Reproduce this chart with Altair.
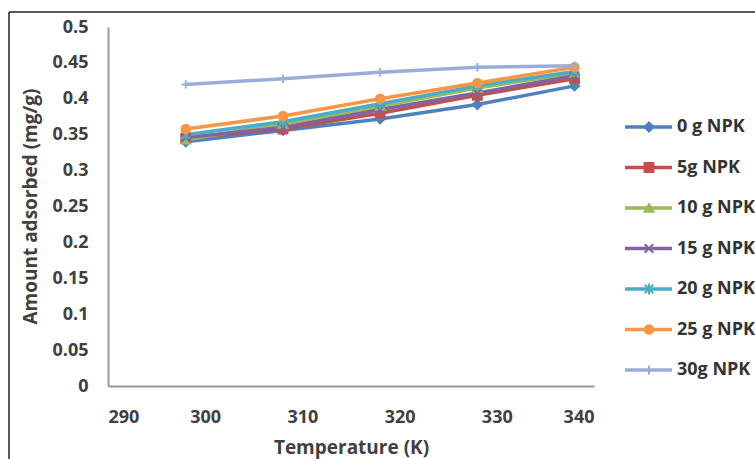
import altair as alt
import pandas as pd

# ---- data ----
temps = [298, 308, 318, 328, 338]
series = ["0 g NPK", "5g NPK", "10 g NPK", "15 g NPK", "20 g NPK", "25 g NPK", "30g NPK"]
npk0 = [0.340, 0.356, 0.372, 0.392, 0.418]
npk5 = [0.345, 0.358, 0.380, 0.405, 0.428]
npk10 = [0.343, 0.365, 0.390, 0.415, 0.436]
npk15 = [0.346, 0.360, 0.385, 0.408, 0.432]
npk20 = [0.350, 0.368, 0.393, 0.418, 0.438]
npk25 = [0.358, 0.376, 0.400, 0.422, 0.444]
npk30 = [0.420, 0.428, 0.437, 0.444, 0.446]
y_ticks = [0, 0.05, 0.1, 0.15, 0.2, 0.25, 0.3, 0.35, 0.4, 0.45, 0.5]
x_ticks = [290, 300, 310, 320, 330, 340]

# ---- styles ----
colors = ["#4F81BD", "#C0504D", "#9BBB59", "#8064A2", "#4BACC6", "#F79646", "#9AACDA"]
shapes = ["diamond", "square", "triangle-up",
          "M-1,-1L1,1M-1,1L1,-1",
          "M-1,-1L1,1M-1,1L1,-1M0,-1.3L0,1.3",
          "circle",
          "M-1,0L1,0M0,-1L0,1"]
sizes = [80, 70, 80, 80, 80, 170, 110]

all_vals = [npk0, npk5, npk10, npk15, npk20, npk25, npk30]
rows = []
for i, (s, vals) in enumerate(zip(series, all_vals)):
    for t, v in zip(temps, vals):
        rows.append({"series": s, "order": i, "T": t, "v": v})
df = pd.DataFrame(rows)
leg = pd.DataFrame({"series": series})

FONT = "Open Sans"
W, H = 486, 359
PL, PT = 108, 27

color_scale = alt.Scale(domain=series, range=colors)

x_axis = alt.Axis(values=x_ticks, title="Temperature (K)", labelPadding=22,
                  labelOverlap=False, titleY=61, titleBaseline="middle")
y_axis = alt.Axis(values=y_ticks, tickCount=11, format="~g", title="Amount adsorbed (mg/g)",
                  labelPadding=20, labelOverlap=False, titleX=-78, titleY=179,
                  titleAngle=270, titleAlign="center", titleBaseline="middle")
x_scale = alt.Scale(domain=[290, 340], nice=False)
y_scale = alt.Scale(domain=[0, 0.5], nice=False)

base = alt.Chart(df)
lines = base.mark_line(strokeWidth=3.5).encode(
    x=alt.X("T:Q", scale=x_scale, axis=x_axis),
    y=alt.Y("v:Q", scale=y_scale, axis=y_axis),
    color=alt.Color("series:N", scale=color_scale, legend=None),
    detail="series:N",
    order="T:Q",
)
points = base.mark_point(filled=True, opacity=1, strokeWidth=2).encode(
    x=alt.X("T:Q", scale=x_scale, axis=x_axis),
    y=alt.Y("v:Q", scale=y_scale, axis=y_axis),
    color=alt.Color("series:N", scale=color_scale, legend=None),
    stroke=alt.Stroke("series:N", scale=alt.Scale(domain=series, range=colors), legend=None),
    shape=alt.Shape("series:N", scale=alt.Scale(domain=series, range=shapes), legend=None),
    size=alt.Size("series:N", scale=alt.Scale(domain=series, range=sizes), legend=None),
    order="order:Q",
)
main = alt.layer(lines, points)

ly = alt.Y("series:N", scale=alt.Scale(type="point", domain=series, range=[100, 343], padding=0), axis=None)
lbase = alt.Chart(leg)
lrule = lbase.mark_rule(strokeWidth=3.5).encode(
    y=ly, x=alt.value(517), x2=alt.value(564),
    color=alt.Color("series:N", scale=color_scale, legend=None),
)
lpts = lbase.mark_point(filled=True, opacity=1, strokeWidth=2).encode(
    y=ly, x=alt.value(541),
    color=alt.Color("series:N", scale=color_scale, legend=None),
    stroke=alt.Stroke("series:N", scale=alt.Scale(domain=series, range=colors), legend=None),
    shape=alt.Shape("series:N", scale=alt.Scale(domain=series, range=shapes), legend=None),
    size=alt.Size("series:N", scale=alt.Scale(domain=series, range=sizes), legend=None),
)
ltext = lbase.mark_text(align="left", baseline="middle", font=FONT, fontSize=18,
                        fontWeight="bold", color="#333333").encode(
    y=ly, x=alt.value(569), text="series:N",
)
legend = alt.layer(lrule, lpts, ltext)

frame = alt.Chart(pd.DataFrame({"a": [0]}))
top_line = frame.mark_rule(color="#222222", strokeWidth=1.5).encode(
    x=alt.value(-99), x2=alt.value(660), y=alt.value(-15))
left_line = frame.mark_rule(color="#222222", strokeWidth=1.5).encode(
    x=alt.value(-99), y=alt.value(-15), y2=alt.value(450))

chart = alt.layer(main, legend, top_line, left_line).resolve_scale(
    y="independent"
).properties(
    width=W, height=H,
    autosize=alt.AutoSizeParams(type="none"),
    padding={"left": PL, "top": PT, "right": 755 - PL - W, "bottom": 459 - PT - H},
    background="white",
).configure_view(stroke=None).configure_axis(
    grid=False, ticks=False, domainColor="#9A9A9A", domainWidth=2, labelOverlap=False,
    labelFont=FONT, labelFontSize=18, labelFontWeight="bold", labelColor="#404040",
    titleFont=FONT, titleFontSize=19, titleFontWeight="bold", titleColor="#404040",
)

chart.save("out.html", embed_options={"renderer": "svg", "actions": False})
